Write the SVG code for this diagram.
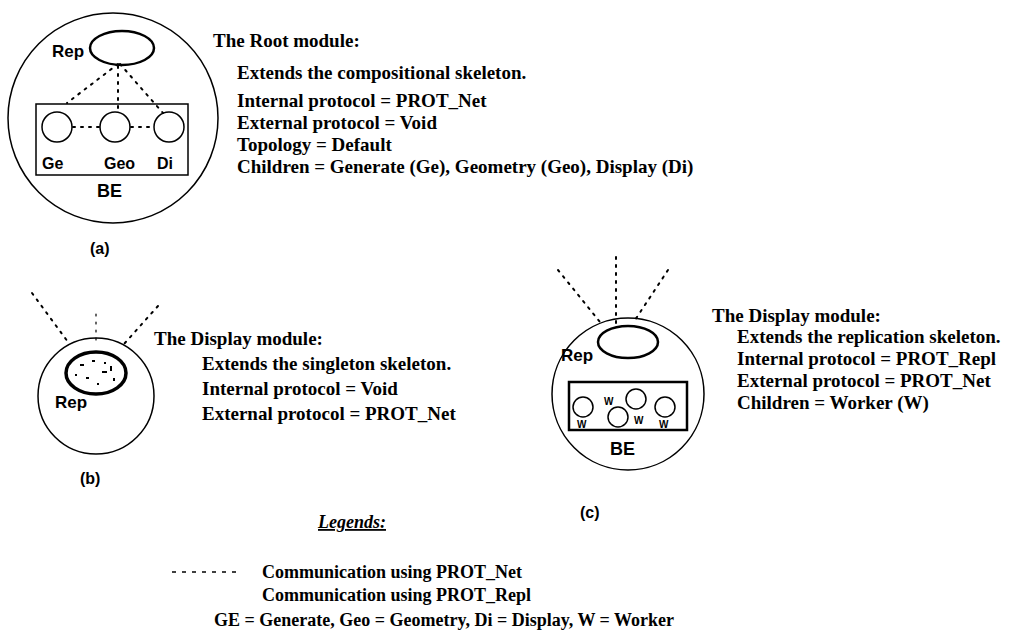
<svg xmlns="http://www.w3.org/2000/svg" width="1029" height="638" viewBox="0 0 1029 638">
<style>
.t{font-family:"Liberation Serif","Times New Roman",serif;font-weight:bold;font-size:19px;fill:#000}
.lg{font-family:"Liberation Serif","Times New Roman",serif;font-weight:bold;font-size:18px;fill:#000}
.lb{font-family:"Liberation Sans",Arial,sans-serif;font-weight:bold;fill:#000}
.ln{fill:none;stroke:#000;stroke-width:1.5}
.thick{fill:none;stroke:#000;stroke-width:2.5}
.dot{fill:none;stroke:#000;stroke-width:2;stroke-dasharray:2 6;stroke-linecap:round}
</style>
<rect width="1029" height="638" fill="#fff"/>
<g id="connectors">
  <line class="dot" x1="118" y1="64" x2="67" y2="103"/>
  <line class="dot" x1="118" y1="66" x2="118" y2="108"/>
  <line class="dot" x1="120" y1="64" x2="163" y2="113"/>
  <line class="dot" x1="73" y1="127" x2="100" y2="127"/>
  <line class="dot" x1="131" y1="127" x2="154" y2="127"/>
  <line class="dot" x1="32" y1="293" x2="68" y2="342"/>
  <line class="dot" x1="96" y1="314" x2="96" y2="340" style="stroke-width:1.2"/>
  <line class="dot" x1="158" y1="306" x2="124" y2="344"/>
  <line class="dot" x1="558" y1="270" x2="600" y2="322"/>
  <line class="dot" x1="616" y1="257" x2="616" y2="328"/>
  <line class="dot" x1="668" y1="270" x2="635" y2="320"/>
</g>
<g id="root-module">
  <circle class="ln" cx="113" cy="118" r="105"/>
  <ellipse class="thick" cx="122" cy="48" rx="32" ry="17"/>
  <text class="lb" x="52" y="57" font-size="17">Rep</text>
  <rect class="ln" x="36" y="104" width="152" height="71"/>
  <circle class="ln" cx="57" cy="127" r="15"/>
  <circle class="ln" cx="115" cy="127" r="15"/>
  <circle class="ln" cx="169" cy="127" r="15"/>
  <text class="lb" x="42" y="169" font-size="16">Ge</text>
  <text class="lb" x="104" y="169" font-size="16">Geo</text>
  <text class="lb" x="157" y="169" font-size="16">Di</text>
  <text class="lb" x="97" y="197" font-size="18">BE</text>
  <text class="lb" x="90" y="254" font-size="16">(a)</text>
</g>
<g id="root-text">
  <text class="t" x="213" y="47">The Root module:</text>
  <text class="t" x="237" y="79">Extends the compositional skeleton.</text>
  <text class="t" x="237" y="107">Internal protocol = PROT_Net</text>
  <text class="t" x="237" y="129">External protocol = Void</text>
  <text class="t" x="237" y="151">Topology = Default</text>
  <text class="t" x="237" y="173">Children = Generate (Ge), Geometry (Geo), Display (Di)</text>
</g>
<g id="display-singleton">
  <circle class="ln" cx="96" cy="396" r="58"/>
  <ellipse cx="96" cy="373" rx="30" ry="21" fill="#fff" stroke="#000" stroke-width="3.5"/>
  <g fill="#000">
    <rect x="80" y="364" width="4" height="2"/><rect x="92" y="360" width="3" height="2"/><rect x="102" y="371" width="5" height="2"/>
    <rect x="86" y="377" width="3" height="2"/><rect x="110" y="366" width="2" height="5"/><rect x="75" y="374" width="2" height="2"/>
    <rect x="97" y="383" width="2" height="2"/><rect x="113" y="378" width="2" height="3"/><rect x="104" y="362" width="2" height="2"/>
  </g>
  <text class="lb" x="55" y="408" font-size="17">Rep</text>
  <text class="lb" x="80" y="484" font-size="16">(b)</text>
</g>
<g id="display-singleton-text">
  <text class="t" x="154" y="345">The Display module:</text>
  <text class="t" x="202" y="370">Extends the singleton skeleton.</text>
  <text class="t" x="202" y="395">Internal protocol = Void</text>
  <text class="t" x="202" y="420">External protocol = PROT_Net</text>
</g>
<g id="display-replication">
  <circle class="ln" cx="628" cy="394" r="76"/>
  <ellipse class="thick" cx="628" cy="342" rx="30" ry="16"/>
  <text class="lb" x="561" y="361" font-size="17">Rep</text>
  <rect class="thick" x="569" y="382" width="118" height="48"/>
  <circle class="ln" cx="583" cy="407" r="10"/>
  <circle class="ln" cx="636" cy="399" r="10"/>
  <circle class="ln" cx="618" cy="417" r="10"/>
  <circle class="ln" cx="665" cy="407" r="10"/>
  <text class="lb" x="577" y="428" font-size="10">W</text>
  <text class="lb" x="604" y="405" font-size="10">W</text>
  <text class="lb" x="634" y="424" font-size="10">W</text>
  <text class="lb" x="659" y="428" font-size="10">W</text>
  <text class="lb" x="610" y="455" font-size="18">BE</text>
  <text class="lb" x="580" y="518" font-size="16">(c)</text>
</g>
<g id="display-replication-text">
  <text class="t" x="712" y="322">The Display module:</text>
  <text class="t" x="737" y="343">Extends the replication skeleton.</text>
  <text class="t" x="737" y="365">Internal protocol = PROT_Repl</text>
  <text class="t" x="737" y="387">External protocol = PROT_Net</text>
  <text class="t" x="737" y="409">Children = Worker (W)</text>
</g>
<g id="legend">
  <text class="lg" x="318" y="528" font-style="italic" text-decoration="underline">Legends:</text>
  <line x1="172" y1="572" x2="236" y2="572" stroke="#000" stroke-width="1.5" stroke-dasharray="4 6"/>
  <text class="lg" x="262" y="578">Communication using PROT_Net</text>
  <text class="lg" x="262" y="601">Communication using PROT_Repl</text>
  <text class="lg" x="214" y="626">GE = Generate, Geo = Geometry, Di = Display, W = Worker</text>
</g>
</svg>
